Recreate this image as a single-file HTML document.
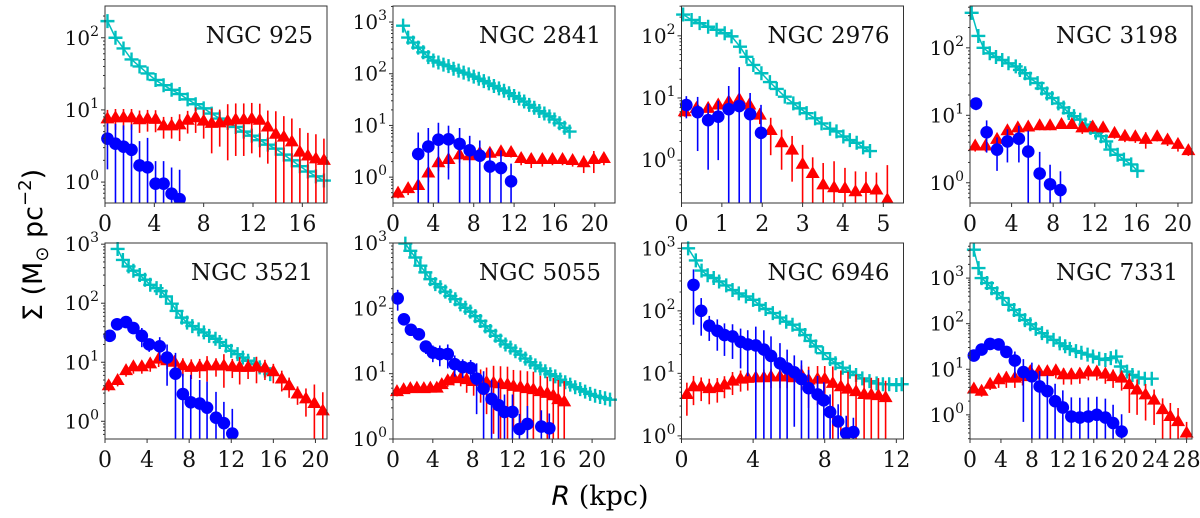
<!DOCTYPE html>
<html><head><meta charset="utf-8"><style>
html,body{margin:0;padding:0;background:#fff;width:1200px;height:518px;overflow:hidden;}
svg{display:block;}
</style></head><body>
<svg id="fig" width="1200" height="518" viewBox="0 0 1200 518" xmlns="http://www.w3.org/2000/svg">
<rect width="1200" height="518" fill="#fff"/>
<text transform="translate(42,245) rotate(-90)" text-anchor="middle" font-family="DejaVu Sans, sans-serif" font-size="27">Σ (M<tspan font-size="18" dy="6">⊙</tspan><tspan dy="-6"> pc</tspan><tspan font-size="18" dy="-11">−2</tspan><tspan dy="11">)</tspan></text>
<text x="600" y="505" text-anchor="middle" font-family="DejaVu Serif, serif" font-size="27"><tspan font-family="DejaVu Sans, sans-serif" font-style="italic">R</tspan> (kpc)</text>
</svg>
<script>
// ---- NGC 925 ----
const p1CyanR=[0.2,0.85,1.5,2.15,2.8,3.45,4.1,4.75,5.4,6.05,6.7,7.35,8.0,8.65,9.3,9.95,10.6,11.25,11.9,12.55,13.2,13.85,14.5,15.15,15.8,16.45,17.1,17.75];
const p1CyanV=[170,100,71,50,40,32,26,22,19,16.6,14,12,10.5,8.9,7.6,6.6,5.8,5,4.4,3.8,3.3,2.9,2.4,2,1.66,1.4,1.2,1.05];
const p1RedR=p1CyanR;
const p1RedV=[7.5,7.8,7.8,7.8,7.3,7.5,7.4,6,6,6.2,7.2,7.8,7,6.5,6.6,7,7.3,7.3,7.5,7.2,5.8,4.6,4.2,3.6,2.6,2.3,2.1,2.0];
const p1RedE=[2.5,2.5,2.5,2.5,2.5,2.5,2.5,2,2,2.5,2.5,3,3,4,3.5,5,5,5,5,5,4,5,4,4,3,2.5,2.5,2];
const p1BlueR=[0.2,0.85,1.5,2.15,2.8,3.45,4.1,4.75,5.4,6.05];
const p1BlueV=[4.0,3.4,3.1,2.8,1.7,1.6,0.95,0.95,0.69,0.58];
const p1BlueE=[2.5,3,3,3.5,2,2.5,1,1,0.9,0.9];
// ---- NGC 2841 ----
const p2CyanR=[1.0,1.5,2.0,2.5,3.0,3.5,4.0,4.5,5.0,5.5,6.0,6.5,7.0,7.5,8.0,8.5,9.0,9.5,10.0,10.5,11.0,11.5,12.0,12.5,13.0,13.5,14.0,14.5,15.0,15.5,16.0,16.5,17.0,17.5];
const p2CyanV=[850,500,400,320,260,210,180,165,150,140,125,115,105,97,88,80,72,65,58,52,47,42,37,33,29,25,22,19,17,15,13,11,9,7.6];
const p2RedR=[0.5,1.5,2.5,3.5,4.5,5.5,6.6,7.6,8.6,9.6,10.7,11.7,12.7,13.7,14.8,15.8,16.8,17.8,18.9,19.9,20.9];
const p2RedV=[0.49,0.6,0.69,1.2,1.9,2.2,2.7,2.6,2.9,2.9,3.1,3,2.3,2.2,2.2,2.2,2.2,2.1,1.9,2.2,2.3];
const p2RedE=[0.1,0.15,0.2,0.4,0.6,0.7,0.8,0.7,0.7,0.5,0.6,0.6,0.6,0.7,0.6,0.5,0.5,0.5,0.7,1,0.6];
const p2BlueR=[2.5,3.5,4.5,5.5,6.6,7.6,8.6,9.6,10.7,11.7];
const p2BlueV=[2.8,3.9,5.3,5.4,4.4,3.3,2.6,1.6,1.5,0.83];
const p2BlueE=[4.5,5,6,4.5,4.5,3,2.5,2,1.8,1];
// ---- NGC 2976 ----
const p3CyanR=[0.04,0.25,0.45,0.66,0.87,1.07,1.24,1.45,1.61,1.78,1.98,2.19,2.36,2.56,2.77,2.93,3.1,3.31,3.47,3.68,3.84,4.01,4.17,4.34,4.5,4.67];
const p3CyanV=[220,180,160,140,125,110,98,67,46,34,25,18,14,10.5,8.2,6.8,5.7,4.7,3.9,3.2,2.9,2.4,2.1,1.9,1.6,1.4];
const p3RedR=[0.08,0.37,0.66,0.91,1.17,1.43,1.68,1.94,2.21,2.48,2.74,3.0,3.25,3.51,3.78,4.05,4.31,4.57,4.83,5.1];
const p3RedV=[6,6.8,6.8,7.7,8.7,9.5,7.7,5.3,3.0,1.9,1.45,0.86,0.61,0.4,0.36,0.35,0.31,0.35,0.33,0.23];
const p3RedE=[1,1.5,1.5,1.5,1.5,1.5,1.5,1.5,1.8,1.2,1,0.9,0.5,0.5,0.6,0.4,0.35,0.3,0.3,0.6];
const p3BlueR=[0.12,0.4,0.66,0.91,1.17,1.43,1.7,1.97];
const p3BlueV=[7.7,5.9,4.4,5,6.6,7.4,5.5,2.75];
const p3BlueE=[3,4.5,3.7,4,9,24,6.5,5];
// ---- NGC 3198 ----
const p4CyanR=[0.16,0.8,1.3,1.9,2.5,3.1,3.7,4.4,4.8,5.3,5.8,6.5,6.9,7.4,7.9,8.5,9,9.5,10,10.6,11.1,11.6,12.1,12.6,13.1,13.5,14.2,14.8,15.5,16.1];
const p4CyanV=[330,150,100,83,73,66,59,53,47,42,35,30,25,21,18,15,13,10.8,9.7,8.6,7.3,6.5,5.5,4.9,4.1,3.1,2.6,2.2,1.87,1.5];
const p4RedR=[0.5,1.5,2.6,3.6,4.6,5.6,6.7,7.7,8.8,9.8,10.8,11.8,12.8,13.9,14.9,15.9,16.9,18,19,20,21];
const p4RedV=[3.5,3.5,4.4,5.9,6.5,6.7,7,7,7.3,7.3,6.5,6.7,6.5,5.4,4.9,4.8,4.4,4.8,4.3,3.7,3.0];
const p4RedE=[0.6,0.6,0.8,0.9,0.9,0.9,1,1,1,1,1.2,1.1,1,0.9,0.9,0.9,1.2,0.7,0.8,0.8,0.5];
const p4BlueR=[0.58,1.6,2.6,3.6,4.7,5.6,6.7,7.7,8.7];
const p4BlueV=[14.9,5.6,3.1,4.1,4.5,2.9,1.37,0.95,0.78];
const p4BlueE=[3,2.8,1.6,2.1,2.5,3,1.5,0.9,0.7];
// ---- NGC 3521 ----
const p5CyanR=[1.2,1.7,2.24,2.7,3.3,3.8,4.3,4.9,5.3,5.8,6.35,6.8,7.3,7.8,8.3,8.9,9.4,9.9,10.5,10.9,11.5,12.0,12.6,13.1,13.6,14.2,14.7,15.2,15.7];
const p5CyanV=[830,540,420,355,300,250,205,180,160,130,98,74,57,47,41,36,32,28,25,22,19,15.6,13.7,12,10.6,9.3,8.2,7.2,6.3];
const p5RedR=[0.35,1.2,2.0,2.7,3.5,4.3,5.1,5.9,6.6,7.4,8.2,9.0,9.7,10.55,11.3,12.1,12.8,13.6,14.4,15.2,16.0,16.8,17.5,18.3,19.1,19.9,20.7];
const p5RedV=[4.0,4.9,7.2,8.4,8.4,9.4,11.3,10.6,10,8.7,8.2,8.4,8.7,8.7,8.7,8.4,8.2,8.2,8.4,8,6.9,5.2,4.0,2.9,2.4,2.0,1.5];
const p5RedE=[0.8,1,1.5,2,2,2.5,3,3,3,3,3,3,4,3,5,3,4,3,4,3,2.5,2,1.5,1,1.2,2.2,1.6];
const p5BlueR=[0.45,1.15,2.0,2.7,3.5,4.2,5.2,5.9,6.7,7.4,8.15,9.0,9.7,10.55,11.3,12.1];
const p5BlueV=[28,44,48,38,28,20,18.6,12,6.4,2.9,2.1,2.0,1.7,1.15,0.93,0.62];
const p5BlueE=[3,5,5,6,10,5,8,8,8,3.5,4,3,3,2,1.2,1];
// ---- NGC 5055 ----
const p6CyanR=[1.24,1.74,2.24,2.75,3.25,3.75,4.25,4.76,5.26,5.76,6.26,6.77,7.27,7.77,8.27,8.78,9.28,9.78,10.3,10.8,11.3,11.8,12.3,12.8,13.3,13.8,14.3,14.8,15.3,15.8,16.3,16.8,17.3,17.8,18.3,18.8,19.3,19.8,20.3,20.8,21.3,21.8];
const p6CyanV=[980,760,600,450,355,280,235,210,180,155,138,115,102,89,76,64,53,45,38,32,28,25,22,19.5,17,15,13.4,12,10.9,9.8,9.1,8.1,7.4,6.8,6.2,5.8,5.3,4.9,4.6,4.4,4.2,4.0];
const p6RedR=[0.4,1.07,1.74,2.4,3.1,3.75,4.4,4.9,5.5,6.1,6.8,7.4,8.1,8.8,9.4,10.1,10.8,11.5,12.1,12.8,13.5,14.1,14.8,15.5,16.1,16.6,17.2];
const p6RedV=[5.3,5.7,5.9,6.0,5.9,6.0,6.0,6.8,7.8,8.6,8.4,8.1,7.6,7.6,7.4,7.2,7.0,6.8,6.4,6.2,5.9,5.7,5.3,5.0,4.6,4.0,3.7];
const p6RedE=[0.8,0.8,0.8,0.8,0.8,0.8,0.8,1,1.5,2,2,3,3,4,5,6,6,6,5,5,5,5,4,4,4,4,4];
const p6BlueR=[0.47,1.1,1.8,2.6,3.3,4.0,4.7,5.5,6.2,7.0,7.8,8.4,9.1,9.9,10.6,11.2,12.0,12.7,13.5,14.9,15.7];
const p6BlueV=[142,68,47,40,26,21,20,20,14,12.6,12.2,8.4,5.9,4.1,3.3,2.6,2.6,1.42,1.7,1.55,1.46];
const p6BlueE=[50,12,6,5,6,6,7,8,5,4,4,6,5,4,4,2.2,2.2,1,1.5,1.2,1];
// ---- NGC 6946 ----
const p7CyanR=[0.37,0.8,1.12,1.46,1.8,2.1,2.5,2.85,3.2,3.6,4.0,4.35,4.7,5.1,5.5,5.85,6.2,6.6,6.9,7.2,7.5,7.9,8.3,8.6,9.0,9.4,9.75,10.1,10.5,10.9,11.25,11.6,12.0,12.3];
const p7CyanV=[1000,640,440,370,335,295,255,215,190,170,150,125,107,92,78,67,60,50,41,33,27,21,17,14.5,12.3,10.6,9.4,8.3,7.5,6.9,6.7,6.7,6.5,6.7];
const p7RedR=[0.3,0.67,1.1,1.55,2.0,2.4,2.85,3.3,3.7,4.15,4.6,5.0,5.5,5.9,6.3,6.7,7.1,7.6,8.0,8.45,8.9,9.3,9.75,10.2,10.6,11.0,11.4];
const p7RedV=[4.6,6.1,6.1,5.7,5.9,6.5,7.5,8.1,8.3,8.5,8.5,8.8,8.8,8.8,8.5,9.4,7.8,8.1,8.1,6.9,6.1,5.6,5.1,4.6,4.5,4.4,4.1];
const p7RedE=[2.5,3,2.5,2.5,2.5,2.5,3,3,3,3,3,3,3,3,3,4,5,5,5,6,5,5,4.5,4,4,4,3.5];
const p7BlueR=[0.67,1.1,1.55,2.0,2.4,2.85,3.3,3.7,4.15,4.6,5.0,5.5,5.9,6.3,6.7,7.1,7.6,7.95,8.3,8.75,9.2,9.6];
const p7BlueV=[260,100,58,48,41,39,32,29,28,24,19,14.5,12,10.4,8.1,5.8,4.6,3.7,2.4,1.7,1.1,1.15];
const p7BlueE=[200,60,25,25,22,22,20,20,28,25,20,16,12,9,8,5.5,4.5,3.5,2.2,1.5,1,0.8];
// ---- NGC 7331 ----
const p8CyanR=[0.5,1.1,1.5,2.2,2.8,3.5,4.2,5.0,5.7,6.4,7.1,7.8,8.5,9.3,10.0,10.8,11.6,12.3,12.9,13.7,14.4,15.2,15.9,16.7,17.5,18.2,18.9,19.5,20.3,21.0,21.8,22.6,23.5];
const p8CyanV=[4200,1660,1000,780,600,465,365,260,200,155,120,97,77,62,52,44,37,32,28,25,23,21,19,17,16,17.5,19,11.5,8.9,7.5,6.6,6.2,6.2];
const p8RedR=[0.5,1.5,2.6,3.7,4.7,5.8,6.8,7.8,8.9,10.0,11.1,12.1,13.1,14.2,15.3,16.4,17.5,18.5,19.6,20.6,21.6,22.7,23.8,24.9,25.9,26.9,28.0];
const p8RedV=[3.7,3.3,4.7,5.9,6.4,6.4,6.9,8.9,8.9,8.9,9.3,7.6,7.6,7.8,8.7,8.7,7.8,6.9,6.4,4.6,3.5,2.75,2.1,1.3,0.92,0.71,0.4];
const p8RedE=[0.7,0.8,1.2,2,2.5,2.5,2.5,3,3,3,3,3,3,3,3,3,3,3,3,3.5,2.5,2,1.5,1,0.9,0.7,0.3];
const p8BlueR=[0.5,1.5,2.6,3.7,4.7,5.8,6.9,8.0,9.0,10.0,11.0,12.0,13.1,14.2,15.3,16.4,17.5,18.5,19.6];
const p8BlueV=[20,27,36,35,24,15.5,8.7,7,4.2,3.3,2.0,1.45,0.92,0.87,0.92,1.0,0.87,0.66,0.43];
const p8BlueE=[4,5,6,6,6,9,8,7,5,4,2.8,2,1.5,1.5,1.5,1.5,1.4,1,0.6];

const NS='http://www.w3.org/2000/svg';
const svg=document.getElementById('fig');
const CY='#00bfbf', RD='#ff0000', BL='#0000ff';
function mk(tag,attrs,parent){const e=document.createElementNS(NS,tag);for(const k in attrs)e.setAttribute(k,attrs[k]);(parent||svg).appendChild(e);return e;}

const panels=[
 {id:'ngc-925',label:'NGC 925',L:105,T:6,W:222,H:197,xmax:18,ymin:-0.29,ymax:2.44,xt:[0,4,8,12,16],yd:[0,1,2],cR:p1CyanR,cV:p1CyanV,rR:p1RedR,rV:p1RedV,rE:p1RedE,bR:p1BlueR,bV:p1BlueV,bE:p1BlueE},
 {id:'ngc-2841',label:'NGC 2841',L:393,T:6,W:222,H:197,xmax:22,ymin:-0.5,ymax:3.31,xt:[0,4,8,12,16,20],yd:[0,1,2,3],cR:p2CyanR,cV:p2CyanV,rR:p2RedR,rV:p2RedV,rE:p2RedE,bR:p2BlueR,bV:p2BlueV,bE:p2BlueE},
 {id:'ngc-2976',label:'NGC 2976',L:681.5,T:6,W:222,H:197,xmax:5.5,ymin:-0.69,ymax:2.48,xt:[0,1,2,3,4,5],yd:[0,1,2],cR:p3CyanR,cV:p3CyanV,rR:p3RedR,rV:p3RedV,rE:p3RedE,bR:p3BlueR,bV:p3BlueV,bE:p3BlueE},
 {id:'ngc-3198',label:'NGC 3198',L:970,T:6,W:222,H:197,xmax:21.35,ymin:-0.3,ymax:2.62,xt:[0,4,8,12,16,20],yd:[0,1,2],cR:p4CyanR,cV:p4CyanV,rR:p4RedR,rV:p4RedV,rE:p4RedE,bR:p4BlueR,bV:p4BlueV,bE:p4BlueE},
 {id:'ngc-3521',label:'NGC 3521',L:105,T:243,W:222,H:196,xmax:21.1,ymin:-0.3,ymax:3.02,xt:[0,4,8,12,16,20],yd:[0,1,2,3],cR:p5CyanR,cV:p5CyanV,rR:p5RedR,rV:p5RedV,rE:p5RedE,bR:p5BlueR,bV:p5BlueV,bE:p5BlueE},
 {id:'ngc-5055',label:'NGC 5055',L:393,T:243,W:222,H:196,xmax:22.3,ymin:0,ymax:3,xt:[0,4,8,12,16,20],yd:[0,1,2,3],cR:p6CyanR,cV:p6CyanV,rR:p6RedR,rV:p6RedV,rE:p6RedE,bR:p6BlueR,bV:p6BlueV,bE:p6BlueE},
 {id:'ngc-6946',label:'NGC 6946',L:681.5,T:243,W:222,H:196,xmax:12.4,ymin:-0.05,ymax:3.085,xt:[0,4,8,12],yd:[0,1,2,3],cR:p7CyanR,cV:p7CyanV,rR:p7RedR,rV:p7RedV,rE:p7RedE,bR:p7BlueR,bV:p7BlueV,bE:p7BlueE},
 {id:'ngc-7331',label:'NGC 7331',L:970,T:243,W:222,H:196,xmax:28.7,ymin:-0.53,ymax:3.77,xt:[0,4,8,12,16,20,24,28],yd:[0,1,2,3],cR:p8CyanR,cV:p8CyanV,rR:p8RedR,rV:p8RedV,rE:p8RedE,bR:p8BlueR,bV:p8BlueV,bE:p8BlueE}
];

panels.forEach((p,i)=>{
  const g=mk('g',{});
  
  
  const xs=v=>p.L+v/p.xmax*p.W;
  const ys=v=>{const lv=Math.log10(Math.max(v,1e-6));return p.T+p.H-(lv-p.ymin)/(p.ymax-p.ymin)*p.H;};
  const cid='clip'+i;
  const cp=mk('clipPath',{id:cid},g);
  mk('rect',{x:p.L-8,y:p.T-8,width:p.W+16,height:p.H+8},cp);
  const cid2='clipe'+i;
  const cp2=mk('clipPath',{id:cid2},g);
  mk('rect',{x:p.L,y:p.T,width:p.W,height:p.H},cp2);
  const data=mk('g',{'clip-path':'url(#'+cid+')'},g);
  // cyan series
  const cg=mk('g',{},data);
  
  
  mk('polyline',{points:p.cR.map((r,k)=>xs(r)+','+ys(p.cV[k])).join(' '),fill:'none',stroke:CY,'stroke-width':1.5},cg);
  p.cR.forEach((r,k)=>{const x=xs(r),y=ys(p.cV[k]);
    const m=mk('path',{d:`M${x-7},${y}H${x+7}M${x},${y-7}V${y+7}`,stroke:CY,'stroke-width':2.4,fill:'none'},cg);
    
    });
  // red series
  const rg=mk('g',{},data);
  
  
  p.rR.forEach((r,k)=>{const x=xs(r),v=p.rV[k],e=p.rE[k];
    mk('line',{x1:x,x2:x,y1:ys(v+e),y2:ys(Math.max(v-e,1e-6)),stroke:RD,'stroke-width':1.6,'clip-path':'url(#'+cid2+')'},rg);});
  p.rR.forEach((r,k)=>{const x=xs(r),y=ys(p.rV[k]);
    const m=mk('path',{d:`M${x},${y-7.5}L${x+7},${y+4.5}L${x-7},${y+4.5}Z`,fill:RD},rg);
    
    });
  // blue series
  const bg=mk('g',{},data);
  
  
  p.bR.forEach((r,k)=>{const x=xs(r),v=p.bV[k],e=p.bE[k];
    mk('line',{x1:x,x2:x,y1:ys(v+e),y2:ys(Math.max(v-e,1e-6)),stroke:BL,'stroke-width':1.6,'clip-path':'url(#'+cid2+')'},bg);});
  p.bR.forEach((r,k)=>{
    const m=mk('circle',{cx:xs(r),cy:ys(p.bV[k]),r:6.3,fill:BL},bg);
    
    });
  // frame
  mk('rect',{x:p.L,y:p.T,width:p.W,height:p.H,fill:'none',stroke:'#333','stroke-width':1},g);
  // x ticks
  p.xt.forEach(t=>{const x=xs(t);
    mk('line',{x1:x,x2:x,y1:p.T+p.H,y2:p.T+p.H+4,stroke:'#333','stroke-width':1},g);
    const tx=mk('text',{x:x,y:p.T+p.H+28,'text-anchor':'middle','font-family':'DejaVu Serif, serif','font-size':22,fill:'#111'},g);
    tx.textContent=t;
    
    });
  // y ticks (log)
  for(let d=Math.floor(p.ymin)-1;d<=Math.ceil(p.ymax);d++){
    for(let m=1;m<10;m++){const lv=d+Math.log10(m);
      if(lv<p.ymin-1e-6||lv>p.ymax+1e-6)continue;
      const y=p.T+p.H-(lv-p.ymin)/(p.ymax-p.ymin)*p.H;
      mk('line',{x1:p.L-(m===1?4:2),x2:p.L,y1:y,y2:y,stroke:'#333','stroke-width':1},g);}
  }
  p.yd.forEach(d=>{const y=ys(Math.pow(10,d));
    const tx=mk('text',{x:p.L-6,y:y+7,'text-anchor':'end','font-family':'DejaVu Serif, serif','font-size':20,fill:'#111'},g);
    
    
    tx.appendChild(document.createTextNode('10'));
    const s=mk('tspan',{dy:-9,'font-size':14},tx);s.textContent=d;});
  const lb=mk('text',{x:p.L+p.W-14,y:p.T+37,'text-anchor':'end','font-family':'DejaVu Serif, serif','font-size':23,fill:'#111'},g);
  lb.textContent=p.label;
  
  
});
</script>
</body></html>
